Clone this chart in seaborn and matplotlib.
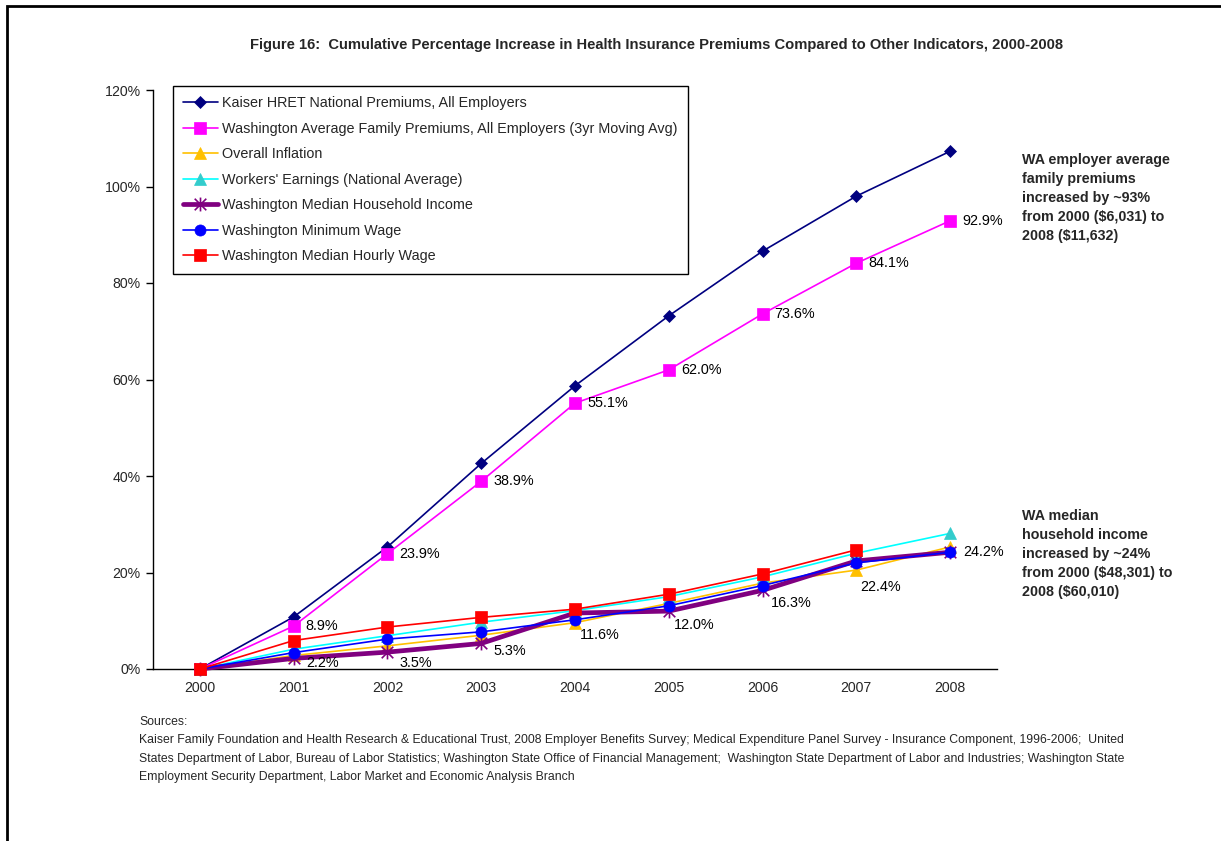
import matplotlib
matplotlib.use("Agg")
import matplotlib.pyplot as plt
import matplotlib.patches as patches
from matplotlib.path import Path
import seaborn as sns
import pandas as pd
import numpy as np

# Data (cumulative % increase since 2000)
years = ["2000", "2001", "2002", "2003", "2004", "2005", "2006", "2007", "2008"]
kaiser = [0, 10.8, 25.3, 42.6, 58.7, 73.2, 86.6, 98.0, 107.3]
wa_premiums = [0, 8.9, 23.9, 38.9, 55.1, 62.0, 73.6, 84.1, 92.9]
inflation = [0, 2.8, 4.8, 7.0, 9.6, 13.6, 17.8, 20.5, 25.3]
workers = [0, 4.1, 6.9, 9.7, 12.1, 15.0, 19.1, 24.0, 28.1]
hh_income = [0, 2.2, 3.5, 5.3, 11.6, 12.0, 16.3, 22.4, 24.2]
min_wage = [0, 3.4, 6.2, 7.7, 10.2, 13.1, 17.3, 22.0, 24.2]
hourly_wage = [0, 5.9, 8.7, 10.7, 12.4, 15.5, 19.7, 24.7, np.nan]

labels = [
    "Kaiser HRET National Premiums, All Employers",
    "Washington Average Family Premiums, All Employers (3yr Moving Avg)",
    "Overall Inflation",
    "Workers' Earnings (National Average)",
    "Washington Median Household Income",
    "Washington Minimum Wage",
    "Washington Median Hourly Wage",
]
series = [kaiser, wa_premiums, inflation, workers, hh_income, min_wage, hourly_wage]

# Excel-style star marker: X plus a vertical bar
star = Path([(-1, -1), (1, 1), (-1, 1), (1, -1), (0, -1.2), (0, 1.2)],
            [Path.MOVETO, Path.LINETO, Path.MOVETO, Path.LINETO, Path.MOVETO, Path.LINETO])

# styles: line colour, marker, marker colour, marker size, line width
styles = [
    ("#000080", "D", "#000080", 6, 1.2),
    ("#FF00FF", "s", "#FF00FF", 8, 1.2),
    ("#FFC000", "^", "#FFC000", 8, 1.2),
    ("#00FFFF", "^", "#33CCCC", 8, 1.2),
    ("#800080", star, "#800080", 10, 3.4),
    ("#0000FF", "o", "#0000FF", 8, 1.2),
    ("#FF0000", "s", "#FF0000", 8, 1.2),
]

# label offsets in pixels (dx, dy down)
hh_offsets = [None, (13, 5), (12, 11), (12, 8), (5, 22), (5, 14), (8, 13), (4, 26), (13, 0)]

sns.set_style("white")
plt.rcParams["font.family"] = ["Liberation Sans", "DejaVu Sans"]

fig = plt.figure(figsize=(12.21, 8.41), dpi=100)
ax = fig.add_axes([153 / 1221, 1 - 669 / 841, (997 - 153) / 1221, (669 - 90) / 841])

x = list(range(len(years)))
for lab, vals, (lc, mk, mc, ms, lw) in zip(labels, series, styles):
    df = pd.DataFrame({"x": x, "y": vals})
    sns.lineplot(data=df, x="x", y="y", ax=ax, color=lc, linewidth=lw,
                 marker=mk, markersize=ms, markerfacecolor=mc,
                 markeredgecolor=mc, markeredgewidth=1.2 if mk is star else 0.5,
                 label=lab, clip_on=False)

# data labels
for i, v in enumerate(wa_premiums):
    if i == 0:
        continue
    ax.annotate(f"{v:.1f}%", (i, v), xytext=(12, 0), textcoords="offset pixels",
                ha="left", va="center", fontsize=10.4, color="black")
for i, v in enumerate(hh_income):
    if hh_offsets[i] is None:
        continue
    dx, dy = hh_offsets[i]
    ax.annotate(f"{v:.1f}%", (i, v), xytext=(dx, -dy), textcoords="offset pixels",
                ha="left", va="center", fontsize=10.4, color="black")

ax.set_xlim(-0.5, 8.5)
ax.set_ylim(0, 120)
ax.set_xticks(x)
ax.set_xticklabels(years, fontsize=10.2)
ax.set_xticks([i - 0.5 for i in range(10)], minor=True)
ax.set_yticks([0, 20, 40, 60, 80, 100, 120])
ax.set_yticklabels([f"{t}%" for t in [0, 20, 40, 60, 80, 100, 120]], fontsize=10.2)
ax.tick_params(axis="x", which="major", length=0, pad=9)
ax.tick_params(axis="x", which="minor", length=5, width=1, direction="out", color="black")
ax.tick_params(axis="y", length=5, width=1, direction="out", color="black", pad=4, left=True)
ax.set_xlabel("")
ax.set_ylabel("")
for s in ["top", "right"]:
    ax.spines[s].set_visible(False)
for s in ["left", "bottom"]:
    ax.spines[s].set_color("black")
    ax.spines[s].set_linewidth(1)
    ax.spines[s].set_zorder(1)

leg = ax.legend(loc="upper left", bbox_to_anchor=(20 / 844, 1.007), borderaxespad=0,
                fontsize=10.4, frameon=True, fancybox=False, framealpha=1,
                edgecolor="black", handlelength=2.4, handletextpad=0.3,
                labelspacing=0.8, borderpad=0.7)
leg.get_frame().set_linewidth(1)

# title
fig.text(657 / 1221, 1 - 45 / 841,
         "Figure 16:  Cumulative Percentage Increase in Health Insurance Premiums Compared to Other Indicators, 2000-2008",
         ha="center", va="center", fontsize=10.6, fontweight="bold",
         family=["Liberation Sans Narrow", "Liberation Sans"])

# right-side notes
note1 = "WA employer average\nfamily premiums\nincreased by ~93%\nfrom 2000 ($6,031) to\n2008 ($11,632)"
note2 = "WA median\nhousehold income\nincreased by ~24%\nfrom 2000 ($48,301) to\n2008 ($60,010)"
fig.text(1022 / 1221, 1 - 153 / 841, note1, ha="left", va="top", fontsize=10.3,
         fontweight="bold", linespacing=1.45)
fig.text(1022 / 1221, 1 - 509 / 841, note2, ha="left", va="top", fontsize=10.3,
         fontweight="bold", linespacing=1.45)

# sources
sources = ("Sources:\n"
           "Kaiser Family Foundation and Health Research & Educational Trust, 2008 Employer Benefits Survey; Medical Expenditure Panel Survey - Insurance Component, 1996-2006;  United\n"
           "States Department of Labor, Bureau of Labor Statistics; Washington State Office of Financial Management;  Washington State Department of Labor and Industries; Washington State\n"
           "Employment Security Department, Labor Market and Economic Analysis Branch")
fig.text(139 / 1221, 1 - 716 / 841, sources, ha="left", va="top", fontsize=8.8,
         linespacing=1.72, family=["Liberation Sans Narrow", "Liberation Sans"])

# outer frame
fig.add_artist(patches.Rectangle((7.5 / 1221, -0.1), 1.2, 1.1 - 5.5 / 841,
                                 transform=fig.transFigure, fill=False,
                                 edgecolor="black", linewidth=2, clip_on=False))

fig.savefig("out.png", dpi=100, facecolor="white")
